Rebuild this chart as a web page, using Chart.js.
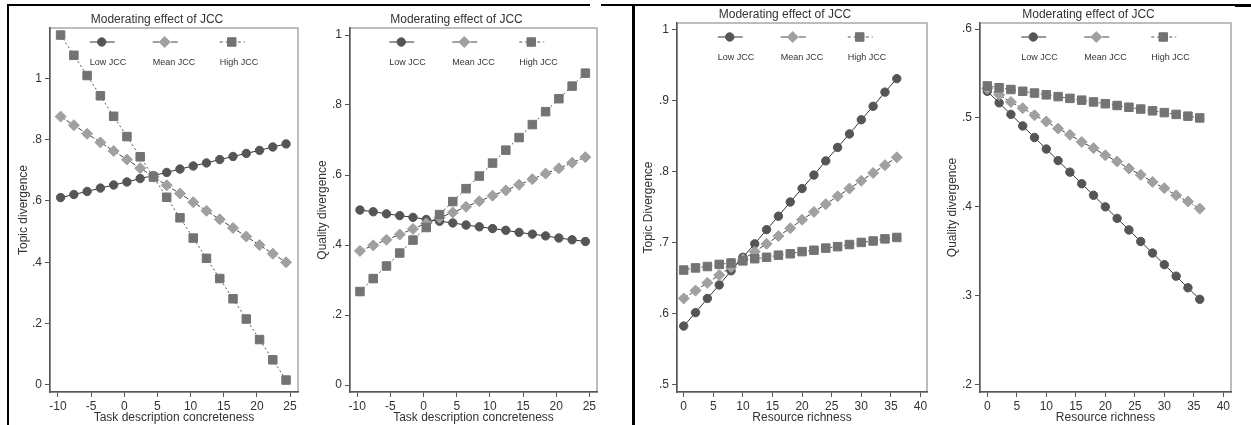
<!DOCTYPE html>
<html>
<head>
<meta charset="utf-8">
<script src="https://cdn.jsdelivr.net/npm/chart.js@4"></script>
<style>
  body { margin: 0; background: #fff; }
  #page { position: relative; width: 1251px; height: 425px; overflow: hidden; }
  canvas { position: absolute; top: 0; }
  .rule { position: absolute; background: #000; }
</style>
</head>
<body>
<div id="page">
  <div class="rule" style="left:7px;top:4px;width:583px;height:2px"></div>
  <div class="rule" style="left:7px;top:4px;width:2px;height:421px"></div>
  <div class="rule" style="left:601px;top:4px;width:634px;height:1.5px"></div>
  <div class="rule" style="left:1235px;top:4px;width:16px;height:3px"></div>
  <div class="rule" style="left:632px;top:4px;width:2.5px;height:421px"></div>
  <canvas id="p1" width="296" height="425" style="left:16px"></canvas>
  <canvas id="p2" width="297" height="425" style="left:315px"></canvas>
  <canvas id="p3" width="294" height="425" style="left:641px"></canvas>
  <canvas id="p4" width="300" height="425" style="left:945px"></canvas>
</div>
<script>
// x values
const taskX = [-9.6, -7.6, -5.6, -3.6, -1.6, 0.4, 2.4, 4.4, 6.4, 8.4, 10.4, 12.4, 14.4, 16.4, 18.4, 20.4, 22.4, 24.4]
const resX = [0, 2, 4, 6, 8, 10, 12, 14, 16, 18, 20, 22, 24, 26, 28, 30, 32, 34, 36]

// panel 1: topic divergence vs task description concreteness
const topicTaskLow = [0.611, 0.621, 0.631, 0.642, 0.652, 0.662, 0.673, 0.683, 0.693, 0.704, 0.714, 0.724, 0.735, 0.745, 0.755, 0.765, 0.776, 0.786]
const topicTaskMean = [0.875, 0.847, 0.819, 0.791, 0.763, 0.735, 0.707, 0.679, 0.651, 0.624, 0.596, 0.568, 0.540, 0.512, 0.484, 0.456, 0.428, 0.400]
const topicTaskHigh = [1.141, 1.075, 1.009, 0.943, 0.876, 0.810, 0.744, 0.678, 0.612, 0.545, 0.479, 0.413, 0.347, 0.281, 0.215, 0.148, 0.082, 0.016]

// panel 2: quality divergence vs task description concreteness
const qualTaskLow = [0.500, 0.495, 0.489, 0.484, 0.479, 0.473, 0.468, 0.463, 0.457, 0.452, 0.447, 0.442, 0.436, 0.431, 0.426, 0.420, 0.415, 0.410]
const qualTaskMean = [0.383, 0.399, 0.415, 0.430, 0.446, 0.462, 0.478, 0.493, 0.509, 0.525, 0.541, 0.556, 0.572, 0.588, 0.604, 0.619, 0.635, 0.651]
const qualTaskHigh = [0.267, 0.304, 0.340, 0.377, 0.414, 0.450, 0.487, 0.524, 0.561, 0.597, 0.634, 0.671, 0.707, 0.744, 0.781, 0.818, 0.854, 0.891]

// panel 3: topic divergence vs resource richness
const topicResLow = [0.582, 0.601, 0.621, 0.640, 0.660, 0.679, 0.698, 0.718, 0.737, 0.757, 0.776, 0.795, 0.815, 0.834, 0.853, 0.873, 0.892, 0.912, 0.931]
const topicResMean = [0.621, 0.632, 0.643, 0.654, 0.665, 0.676, 0.687, 0.698, 0.709, 0.720, 0.732, 0.743, 0.754, 0.765, 0.776, 0.787, 0.798, 0.809, 0.820]
const topicResHigh = [0.661, 0.664, 0.666, 0.669, 0.671, 0.674, 0.677, 0.679, 0.682, 0.684, 0.687, 0.689, 0.692, 0.694, 0.697, 0.700, 0.702, 0.705, 0.707]

// panel 4: quality divergence vs resource richness
const qualResLow = [0.530, 0.517, 0.504, 0.491, 0.478, 0.465, 0.452, 0.439, 0.426, 0.413, 0.400, 0.387, 0.374, 0.361, 0.348, 0.335, 0.322, 0.309, 0.296]
const qualResMean = [0.533, 0.526, 0.518, 0.511, 0.503, 0.496, 0.488, 0.481, 0.473, 0.466, 0.458, 0.451, 0.443, 0.436, 0.428, 0.421, 0.413, 0.406, 0.398]
const qualResHigh = [0.536, 0.534, 0.532, 0.530, 0.528, 0.526, 0.524, 0.522, 0.520, 0.518, 0.516, 0.514, 0.512, 0.510, 0.508, 0.506, 0.504, 0.502, 0.500]

// tick labels
const taskTicks = [-10, -5, 0, 5, 10, 15, 20, 25]
const resTicks = [0, 5, 10, 15, 20, 25, 30, 35, 40]
const yTicksTopicTask = [0, 0.2, 0.4, 0.6, 0.8, 1]
const yTicksQualTask = [0, 0.2, 0.4, 0.6, 0.8, 1]
const yTicksTopicRes = [0.5, 0.6, 0.7, 0.8, 0.9, 1]
const yTicksQualRes = [0.2, 0.3, 0.4, 0.5, 0.6]

const seriesNames = ['Low JCC', 'Mean JCC', 'High JCC']
const chartTitle = 'Moderating effect of JCC'

const FONT = '"Liberation Sans", Arial, sans-serif'
const TEXT = '#333'

const styles = [
  { pointStyle: 'circle', pointRadius: 4.2, fill: '#555', line: '#333', dash: [] },
  { pointStyle: 'rectRot', pointRadius: 5.5, fill: '#a0a0a0', line: '#444', dash: [5, 2] },
  { pointStyle: 'rect', pointRadius: 6, fill: '#737373', line: '#555', dash: [2, 2.5] }
]

function fmtTick(v) {
  const s = String(Number(v.toFixed(2)))
  return s.replace(/^0\./, '.')
}

const decoPlugin = {
  id: 'deco',
  beforeDraw(chart) {
    const { ctx, chartArea: a } = chart
    ctx.save()
    ctx.strokeStyle = '#a8a8a8'
    ctx.lineWidth = 1.5
    ctx.strokeRect(a.left, a.top, a.right - a.left, a.bottom - a.top)
    ctx.restore()
  },
  afterDraw(chart) {
    const { ctx, chartArea: a } = chart
    const mid = (a.left + a.right) / 2
    ctx.save()
    ctx.fillStyle = TEXT
    ctx.font = '12px ' + FONT
    ctx.textAlign = 'center'
    ctx.textBaseline = 'middle'
    ctx.fillText(chartTitle, mid - 17, a.top - 8)

    const offsets = [-66, 0, 65]
    ctx.font = '9px ' + FONT
    seriesNames.forEach((name, i) => {
      const w = ctx.measureText(name).width
      const left = mid + offsets[i] - w / 2
      const symY = a.top + 14
      const st = styles[i]
      ctx.textAlign = 'left'
      ctx.fillStyle = TEXT
      ctx.fillText(name, left, a.top + 35)
      ctx.strokeStyle = st.line
      ctx.lineWidth = 1
      ctx.setLineDash(i === 2 ? [3, 3] : (i === 1 ? [7, 2] : []))
      ctx.beginPath()
      ctx.moveTo(left, symY)
      ctx.lineTo(left + 25, symY)
      ctx.stroke()
      ctx.setLineDash([])
      ctx.fillStyle = st.fill
      ctx.strokeStyle = st.fill
      Chart.helpers.drawPoint(ctx, { pointStyle: st.pointStyle, radius: st.pointRadius, rotation: 0, borderWidth: 1 }, left + 12, symY)
    })
    ctx.restore()
  }
}

function makePanel(id, cfg) {
  const datasets = cfg.series.map((ys, i) => ({
    label: seriesNames[i],
    data: cfg.x.map((x, j) => ({ x: x, y: ys[j] })),
    borderColor: styles[i].line,
    borderWidth: 1,
    borderDash: styles[i].dash,
    pointStyle: styles[i].pointStyle,
    pointRadius: styles[i].pointRadius,
    pointBackgroundColor: styles[i].fill,
    pointBorderColor: styles[i].fill,
    pointBorderWidth: 1,
    order: 3 - i,
    tension: 0
  }))

  new Chart(document.getElementById(id), {
    type: 'line',
    data: { datasets: datasets },
    plugins: [decoPlugin],
    options: {
      responsive: false,
      animation: false,
      devicePixelRatio: 1,
      layout: {
        autoPadding: false,
        padding: { top: cfg.top, right: cfg.right, bottom: 0, left: 0 }
      },
      plugins: {
        legend: { display: false },
        tooltip: { enabled: false }
      },
      scales: {
        x: {
          type: 'linear',
          min: cfg.xMin,
          max: cfg.xMax,
          afterBuildTicks: s => { s.ticks = cfg.xTicks.map(v => ({ value: v })) },
          afterFit: s => { s.height = 33 },
          grid: { display: true, drawOnChartArea: false, drawTicks: true, tickLength: 5, color: '#555' },
          border: { display: true, color: '#555', width: 1.5 },
          ticks: {
            padding: 2,
            maxRotation: 0,
            autoSkip: false,
            color: TEXT,
            font: { family: FONT, size: 12 },
            callback: v => String(v)
          },
          title: {
            display: true,
            text: cfg.xTitle,
            color: TEXT,
            padding: 0,
            font: { family: FONT, size: 12 }
          }
        },
        y: {
          min: cfg.yMin,
          max: cfg.yMax,
          afterBuildTicks: s => { s.ticks = cfg.yTicks.map(v => ({ value: v })) },
          afterFit: s => { s.width = cfg.yWidth },
          grid: { display: true, drawOnChartArea: false, drawTicks: true, tickLength: 5, color: '#555' },
          border: { display: true, color: '#555', width: 1.5 },
          ticks: {
            padding: 3,
            autoSkip: false,
            color: TEXT,
            font: { family: FONT, size: 12 },
            callback: v => fmtTick(v)
          },
          title: {
            display: true,
            text: cfg.yTitle,
            color: TEXT,
            padding: 0,
            font: { family: FONT, size: 12 }
          }
        }
      }
    }
  })
}

makePanel('p1', {
  x: taskX, series: [topicTaskLow, topicTaskMean, topicTaskHigh],
  xMin: -11.2, xMax: 26.2, yMin: -0.023, yMax: 1.164,
  xTicks: taskTicks, yTicks: yTicksTopicTask,
  xTitle: 'Task description concreteness', yTitle: 'Topic divergence',
  top: 28, right: 14, yWidth: 34
})
makePanel('p2', {
  x: taskX, series: [qualTaskLow, qualTaskMean, qualTaskHigh],
  xMin: -11.1, xMax: 26.15, yMin: -0.02, yMax: 1.02,
  xTicks: taskTicks, yTicks: yTicksQualTask,
  xTitle: 'Task description concreteness', yTitle: 'Quality divergence',
  top: 28, right: 15, yWidth: 35
})
makePanel('p3', {
  x: resX, series: [topicResLow, topicResMean, topicResHigh],
  xMin: -1.13, xMax: 41.1, yMin: 0.489, yMax: 1.0095,
  xTicks: resTicks, yTicks: yTicksTopicRes,
  xTitle: 'Resource richness', yTitle: 'Topic Divergence',
  top: 23, right: 8, yWidth: 36
})
makePanel('p4', {
  x: resX, series: [qualResLow, qualResMean, qualResHigh],
  xMin: -1.24, xMax: 41.3, yMin: 0.1917, yMax: 0.6068,
  xTicks: resTicks, yTicks: yTicksQualRes,
  xTitle: 'Resource richness', yTitle: 'Quality divergence',
  top: 23, right: 14, yWidth: 35
})
</script>
</body>
</html>
